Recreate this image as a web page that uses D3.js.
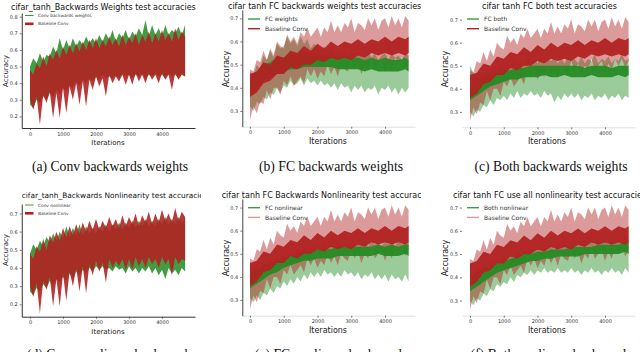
<!DOCTYPE html>
<html><head><meta charset="utf-8">
<script src="https://cdn.jsdelivr.net/npm/d3@7"></script>
<style>body{margin:0;background:#fff}svg{display:block}</style>
</head><body><svg id="c" width="640" height="352"></svg>
<script>
// ---------------- DATA ----------------
const iters = [0,100,200,300,400,500,600,700,800,900,1000,1100,1200,1300,1400,1500,1600,1700,1800,1900,2000,2100,2200,2300,2400,2500,2600,2700,2800,2900,3000,3100,3200,3300,3400,3500,3600,3700,3800,3900,4000,4100,4200,4300,4400,4500,4600,4700];
const coreIters = [0,200,400,600,800,1000,1200,1400,1600,1800,2000,2200,2400,2600,2800,3000,3200,3400,3600,3800,4000,4200,4400,4600,4700];
const xTicks = [0,1000,2000,3000,4000];
const yTicksA = [0.2,0.3,0.4,0.5,0.6,0.7,0.8];
const yTicksD = [0.2,0.3,0.4,0.5,0.6,0.7];
const yTicksFC = [0.3,0.4,0.5,0.6,0.7];
const titles = ["cifar_tanh_Backwards Weights test accuracies","cifar tanh FC backwards weights test accuracies","cifar tanh FC both test accuracies","cifar_tanh_Backwards Nonlinearity test accuracies","cifar tanh FC Backwards Nonlinearity test accuracies","cifar tanh FC use all nonlinearity test accuracies"];
const legendLabels = ["Conv backwards weights","FC weights","FC both","Conv nonlinear","FC nonlinear","Both nonlinear"];
const baselineLabel = "Baseline Conv";
const captions = ["(a) Conv backwards weights","(b) FC backwards weights","(c) Both backwards weights","(d) Conv nonlinear backwards","(e) FC nonlinear backwards","(f) Both nonlinear backwards"];

// Baseline Conv (panels a, d): upper / lower envelope of the noisy run
const baseConvUpper = [0.48,0.45,0.52,0.49,0.56,0.50,0.58,0.54,0.60,0.55,0.62,0.57,0.63,0.58,0.64,0.59,0.65,0.60,0.66,0.61,0.67,0.61,0.66,0.62,0.68,0.63,0.67,0.62,0.69,0.63,0.68,0.64,0.70,0.63,0.69,0.65,0.71,0.64,0.70,0.65,0.72,0.66,0.70,0.65,0.73,0.66,0.71,0.68];
const baseConvLower = [0.30,0.24,0.32,0.15,0.33,0.28,0.35,0.19,0.34,0.19,0.37,0.22,0.38,0.30,0.40,0.27,0.41,0.26,0.42,0.36,0.44,0.38,0.43,0.32,0.45,0.40,0.44,0.41,0.45,0.39,0.45,0.39,0.46,0.41,0.45,0.40,0.46,0.42,0.45,0.40,0.46,0.42,0.45,0.36,0.46,0.42,0.45,0.44];
// Conv backwards weights (a)
const convWeightsUpper = [0.50,0.55,0.52,0.58,0.53,0.57,0.56,0.62,0.58,0.67,0.60,0.66,0.61,0.67,0.62,0.66,0.63,0.68,0.64,0.67,0.64,0.69,0.65,0.70,0.66,0.72,0.65,0.70,0.67,0.72,0.66,0.71,0.68,0.73,0.69,0.78,0.68,0.75,0.69,0.73,0.68,0.75,0.69,0.72,0.70,0.74,0.69,0.75];
const convWeightsLower = [0.27,0.25,0.30,0.28,0.32,0.30,0.34,0.31,0.36,0.33,0.37,0.35,0.39,0.37,0.41,0.38,0.42,0.40,0.43,0.41,0.44,0.42,0.45,0.43,0.44,0.43,0.45,0.43,0.46,0.44,0.45,0.43,0.45,0.44,0.46,0.43,0.45,0.44,0.46,0.44,0.45,0.43,0.46,0.44,0.45,0.43,0.46,0.44];
// Conv nonlinear (d)
const convNonlinUpper = [0.48,0.53,0.50,0.55,0.52,0.57,0.54,0.59,0.55,0.60,0.56,0.63,0.57,0.62,0.58,0.64,0.58,0.63,0.59,0.62,0.59,0.63,0.60,0.64,0.60,0.64,0.61,0.65,0.61,0.65,0.62,0.66,0.62,0.66,0.63,0.67,0.63,0.66,0.63,0.67,0.64,0.68,0.64,0.67,0.64,0.68,0.65,0.67];
const convNonlinLower = [0.27,0.25,0.29,0.27,0.31,0.29,0.33,0.30,0.34,0.32,0.35,0.33,0.37,0.34,0.38,0.36,0.39,0.37,0.40,0.38,0.41,0.39,0.41,0.39,0.40,0.38,0.41,0.39,0.40,0.37,0.41,0.38,0.40,0.37,0.40,0.38,0.41,0.37,0.40,0.36,0.39,0.34,0.40,0.37,0.39,0.36,0.40,0.38];

// Baseline Conv (panels b, c, e, f): wide spread and core
const baseFcUpper = [0.48,0.47,0.52,0.51,0.56,0.52,0.57,0.54,0.60,0.58,0.57,0.63,0.60,0.62,0.59,0.64,0.62,0.66,0.62,0.64,0.66,0.62,0.66,0.64,0.69,0.64,0.67,0.64,0.68,0.66,0.70,0.64,0.68,0.67,0.65,0.70,0.67,0.70,0.65,0.69,0.70,0.66,0.71,0.67,0.70,0.66,0.71,0.69];
const baseFcLower = [0.26,0.32,0.29,0.34,0.33,0.39,0.35,0.40,0.40,0.37,0.43,0.41,0.45,0.41,0.43,0.45,0.42,0.48,0.45,0.48,0.44,0.47,0.45,0.50,0.46,0.49,0.45,0.50,0.48,0.47,0.52,0.48,0.51,0.46,0.50,0.48,0.53,0.48,0.50,0.52,0.47,0.51,0.48,0.53,0.50,0.53,0.49,0.52];
const baseFcCoreUpper = [0.46,0.47,0.51,0.50,0.54,0.53,0.56,0.55,0.58,0.56,0.59,0.57,0.60,0.58,0.60,0.59,0.61,0.59,0.61,0.60,0.62,0.60,0.62,0.61,0.62];
const baseFcCoreLower = [0.36,0.38,0.42,0.43,0.46,0.46,0.49,0.48,0.50,0.50,0.52,0.51,0.53,0.52,0.53,0.52,0.54,0.53,0.55,0.54,0.55,0.54,0.55,0.54,0.55];

// FC weights (b)
const fcWeightsUpper = [0.47,0.45,0.50,0.48,0.54,0.52,0.56,0.53,0.59,0.57,0.58,0.62,0.59,0.61,0.58,0.62,0.59,0.61,0.57,0.59,0.58,0.55,0.58,0.56,0.58,0.54,0.56,0.54,0.56,0.54,0.56,0.53,0.55,0.54,0.53,0.56,0.53,0.55,0.52,0.54,0.55,0.52,0.55,0.53,0.54,0.52,0.55,0.54];
const fcWeightsLower = [0.32,0.30,0.34,0.33,0.36,0.35,0.38,0.37,0.40,0.38,0.41,0.40,0.43,0.41,0.42,0.44,0.41,0.44,0.42,0.43,0.41,0.43,0.41,0.42,0.40,0.42,0.39,0.42,0.40,0.41,0.38,0.41,0.39,0.41,0.38,0.40,0.39,0.41,0.37,0.40,0.39,0.41,0.38,0.40,0.37,0.40,0.38,0.40];
const fcWeightsCoreUpper = [0.44,0.47,0.50,0.51,0.53,0.53,0.54,0.54,0.55,0.54,0.54,0.54,0.54,0.53,0.53,0.53,0.53,0.52,0.53,0.52,0.53,0.52,0.52,0.53,0.52];
const fcWeightsCoreLower = [0.37,0.40,0.43,0.45,0.46,0.47,0.48,0.48,0.49,0.49,0.49,0.49,0.49,0.48,0.48,0.48,0.48,0.47,0.48,0.47,0.47,0.47,0.47,0.48,0.47];
// FC both (c)
const fcBothUpper = [0.50,0.47,0.45,0.48,0.46,0.49,0.47,0.50,0.48,0.51,0.49,0.52,0.50,0.53,0.50,0.52,0.50,0.54,0.51,0.53,0.51,0.54,0.51,0.53,0.52,0.54,0.51,0.53,0.51,0.54,0.52,0.53,0.51,0.54,0.51,0.53,0.52,0.55,0.51,0.53,0.52,0.54,0.51,0.53,0.52,0.55,0.52,0.53];
const fcBothLower = [0.30,0.28,0.31,0.30,0.33,0.32,0.35,0.33,0.36,0.35,0.37,0.35,0.38,0.36,0.39,0.36,0.38,0.37,0.39,0.37,0.38,0.36,0.39,0.37,0.38,0.34,0.37,0.35,0.38,0.36,0.38,0.36,0.38,0.35,0.37,0.36,0.38,0.35,0.37,0.36,0.38,0.35,0.37,0.36,0.38,0.35,0.37,0.36];
const fcBothCoreUpper = [0.42,0.44,0.45,0.46,0.47,0.48,0.48,0.49,0.49,0.50,0.50,0.50,0.50,0.50,0.50,0.50,0.50,0.49,0.50,0.50,0.50,0.49,0.50,0.50,0.50];
const fcBothCoreLower = [0.35,0.37,0.39,0.41,0.42,0.43,0.44,0.44,0.45,0.45,0.45,0.46,0.45,0.45,0.46,0.45,0.45,0.45,0.46,0.45,0.45,0.45,0.46,0.45,0.46];
// FC nonlinear (e)
const fcNonlinUpper = [0.46,0.43,0.46,0.44,0.47,0.45,0.48,0.46,0.49,0.47,0.50,0.48,0.51,0.49,0.52,0.50,0.53,0.51,0.54,0.52,0.54,0.52,0.55,0.53,0.55,0.53,0.56,0.53,0.55,0.54,0.56,0.53,0.55,0.54,0.56,0.53,0.56,0.54,0.55,0.53,0.56,0.54,0.56,0.53,0.56,0.54,0.57,0.55];
const fcNonlinLower = [0.31,0.29,0.32,0.30,0.33,0.32,0.35,0.33,0.36,0.35,0.38,0.36,0.39,0.37,0.40,0.38,0.41,0.39,0.42,0.40,0.42,0.40,0.43,0.41,0.42,0.40,0.42,0.40,0.43,0.41,0.42,0.40,0.42,0.39,0.41,0.40,0.42,0.39,0.41,0.39,0.41,0.38,0.41,0.39,0.40,0.38,0.41,0.38];
const fcNonlinCoreUpper = [0.41,0.43,0.45,0.46,0.47,0.48,0.49,0.50,0.51,0.51,0.52,0.52,0.52,0.53,0.53,0.53,0.53,0.53,0.53,0.54,0.53,0.54,0.53,0.54,0.54];
const fcNonlinCoreLower = [0.35,0.37,0.39,0.41,0.42,0.44,0.45,0.46,0.47,0.47,0.48,0.48,0.48,0.49,0.49,0.49,0.49,0.49,0.49,0.50,0.49,0.49,0.49,0.50,0.49];
// Both nonlinear (f)
const bothNonlinUpper = [0.45,0.42,0.45,0.43,0.46,0.44,0.47,0.45,0.48,0.46,0.49,0.47,0.50,0.48,0.51,0.49,0.52,0.50,0.53,0.51,0.53,0.51,0.54,0.52,0.54,0.52,0.55,0.53,0.55,0.53,0.56,0.53,0.55,0.54,0.56,0.54,0.56,0.54,0.57,0.55,0.56,0.54,0.57,0.55,0.57,0.55,0.58,0.56];
const bothNonlinLower = [0.30,0.28,0.31,0.30,0.33,0.32,0.35,0.34,0.37,0.36,0.38,0.37,0.40,0.38,0.41,0.40,0.42,0.41,0.43,0.41,0.43,0.42,0.44,0.42,0.43,0.42,0.44,0.42,0.43,0.42,0.44,0.42,0.43,0.41,0.43,0.42,0.44,0.42,0.43,0.41,0.43,0.42,0.44,0.42,0.43,0.41,0.44,0.42];
const bothNonlinCoreUpper = [0.40,0.42,0.44,0.45,0.46,0.47,0.48,0.49,0.50,0.50,0.51,0.51,0.52,0.52,0.52,0.53,0.53,0.53,0.53,0.54,0.54,0.54,0.54,0.55,0.55];
const bothNonlinCoreLower = [0.34,0.36,0.38,0.40,0.42,0.43,0.44,0.45,0.46,0.47,0.47,0.48,0.48,0.49,0.49,0.49,0.49,0.50,0.50,0.50,0.50,0.50,0.50,0.51,0.50];

// ---------------- DRAWING ----------------
const RED = "#b22222", GREEN = "#228b22";
const FONT = "DejaVu Sans";
const svg = d3.select("#c");
const defs = svg.append("defs");
[[0,201],[215,206],[440,200]].forEach((c,i)=>{
  defs.append("clipPath").attr("id","clip"+i).append("rect").attr("x",c[0]).attr("y",0).attr("width",c[1]).attr("height",352);
});

const panels = [
 {type:"conv", xr:[21.75,195], xd:[-250,5000], yr:[128,13], yd:[0.130,0.822], yTicks:yTicksA,
  green:[convWeightsUpper,convWeightsLower], red:[baseConvUpper,baseConvLower],
  title:titles[0], tx:11, ty:9.5, tfs:8, clip:0, label:legendLabels[0], lx:25, ly:15.5,
  accX:6, accY:71, accFs:7, itX:108, itY:144.5, itFs:7, leftSpine:"#333", botSpine:"#333"},
 {type:"fc", xr:[242.3,415], xd:[-228,4889], yr:[126.7,10], yd:[0.232,0.736], yTicks:yTicksFC,
  green:[fcWeightsUpper,fcWeightsLower,fcWeightsCoreUpper,fcWeightsCoreLower],
  title:titles[1], tx:228, ty:9, tfs:8, clip:1, label:legendLabels[1], lx:248, ly:19, legRed:RED,
  accX:226, accY:69, accFs:8, itX:328, itY:144, itFs:8, leftSpine:"#444", botSpine:"#d8d8d8"},
 {type:"fc", xr:[462,635], xd:[-237,4889], yr:[127.3,10.6], yd:[0.233,0.739], yTicks:yTicksFC,
  green:[fcBothUpper,fcBothLower,fcBothCoreUpper,fcBothCoreLower],
  title:titles[2], tx:482, ty:9, tfs:8, clip:2, label:legendLabels[2], lx:467, ly:19, legRed:RED,
  accX:445, accY:69, accFs:8, itX:547, itY:144, itFs:8, leftSpine:"none", botSpine:"#d8d8d8"},
 {type:"conv", xr:[21.75,195], xd:[-250,5000], yr:[316.7,204], yd:[0.132,0.752], yTicks:yTicksD,
  green:[convNonlinUpper,convNonlinLower], red:[baseConvUpper,baseConvLower],
  title:titles[3], tx:21.7, ty:198, tfs:7.4, clip:0, label:legendLabels[3], lx:25, ly:205,
  accX:6, accY:250, accFs:7, itX:108, itY:334, itFs:7, leftSpine:"#333", botSpine:"#333"},
 {type:"fc", xr:[242.3,415], xd:[-228,4889], yr:[315.7,199], yd:[0.232,0.737], yTicks:yTicksFC,
  green:[fcNonlinUpper,fcNonlinLower,fcNonlinCoreUpper,fcNonlinCoreLower],
  title:titles[4], tx:221.7, ty:198, tfs:8, clip:1, label:legendLabels[4], lx:248, ly:207.7, legRed:"#dc9b9b",
  accX:226, accY:258, accFs:8, itX:328, itY:333, itFs:8, leftSpine:"#444", botSpine:"#d8d8d8"},
 {type:"fc", xr:[462,635], xd:[-237,4889], yr:[315.7,199], yd:[0.235,0.737], yTicks:yTicksFC,
  green:[bothNonlinUpper,bothNonlinLower,bothNonlinCoreUpper,bothNonlinCoreLower],
  title:titles[5], tx:453, ty:198, tfs:8, clip:2, label:legendLabels[5], lx:467, ly:207.7, legRed:"#dc9b9b",
  accX:445, accY:258, accFs:8, itX:547, itY:333, itFs:8, leftSpine:"none", botSpine:"#d8d8d8"}
];

panels.forEach(p => {
  const g = svg.append("g").attr("clip-path", `url(#clip${p.clip})`);
  const x = d3.scaleLinear().domain(p.xd).range(p.xr);
  const y = d3.scaleLinear().domain(p.yd).range(p.yr);
  const band = (xs, up, lo) => d3.area()
      .x((d,i)=>x(xs[i])).y0((d,i)=>y(lo[i])).y1((d,i)=>y(up[i]))(up);

  if (p.type === "conv") {
    g.append("path").attr("d", band(iters, p.green[0], p.green[1])).attr("fill", GREEN).attr("fill-opacity", 0.85);
    g.append("path").attr("d", band(iters, p.red[0], p.red[1])).attr("fill", RED).attr("fill-opacity", 0.9);
  } else {
    g.append("path").attr("d", band(iters, p.green[0], p.green[1])).attr("fill", GREEN).attr("fill-opacity", 0.45);
    g.append("path").attr("d", band(iters, baseFcUpper, baseFcLower)).attr("fill", RED).attr("fill-opacity", 0.45);
    g.append("path").attr("d", band(coreIters, p.green[2], p.green[3])).attr("fill", GREEN).attr("fill-opacity", 0.92);
    g.append("path").attr("d", band(coreIters, baseFcCoreUpper, baseFcCoreLower)).attr("fill", RED).attr("fill-opacity", 0.95);
  }

  // axes
  const xg = g.append("g").attr("transform", `translate(0,${p.yr[0]})`)
    .call(d3.axisBottom(x).tickValues(xTicks).tickSize(2).tickSizeOuter(0).tickPadding(2).tickFormat(d3.format("d")));
  xg.attr("font-size", 5).attr("font-family", FONT);
  xg.select(".domain").attr("stroke", p.botSpine).attr("stroke-width", p.type==="conv"?1:0.8);
  xg.selectAll(".tick line").attr("stroke", "#444").attr("stroke-width", 0.7);
  xg.selectAll(".tick text").attr("fill", "#333");

  const yg = g.append("g").attr("transform", `translate(${p.xr[0]},0)`)
    .call(d3.axisLeft(y).tickValues(p.yTicks).tickSize(2).tickSizeOuter(0).tickPadding(2).tickFormat(d3.format(".1f")));
  yg.attr("font-size", 5).attr("font-family", FONT);
  yg.select(".domain").attr("stroke", p.leftSpine).attr("stroke-width", 1);
  yg.selectAll(".tick line").attr("stroke", "#444").attr("stroke-width", 0.7);
  yg.selectAll(".tick text").attr("fill", "#333");

  // title
  g.append("text").attr("x", p.tx).attr("y", p.ty).attr("font-family", FONT).attr("font-size", p.tfs)
    .attr("fill", "#111").text(p.title);
  // axis labels
  g.append("text").attr("x", p.itX).attr("y", p.itY).attr("text-anchor", "middle")
    .attr("font-family", FONT).attr("font-size", p.itFs).attr("fill", "#222").text("Iterations");
  g.append("text").attr("transform", `translate(${p.accX},${p.accY}) rotate(-90)`).attr("text-anchor", "middle")
    .attr("dy", "0.35em").attr("font-family", FONT).attr("font-size", p.accFs).attr("fill", "#222").text("Accuracy");

  // legend
  if (p.type === "conv") {
    g.append("line").attr("x1", p.lx).attr("x2", p.lx+8.5).attr("y1", p.ly).attr("y2", p.ly).attr("stroke", GREEN).attr("stroke-width", 0.9);
    g.append("line").attr("x1", p.lx).attr("x2", p.lx+8.5).attr("y1", p.ly+8.3).attr("y2", p.ly+8.3).attr("stroke", RED).attr("stroke-width", 2.6);
    g.append("text").attr("x", p.lx+13).attr("y", p.ly).attr("dy", "0.35em").attr("font-family", FONT).attr("font-size", 4.3).attr("fill", "#333").text(p.label);
    g.append("text").attr("x", p.lx+13).attr("y", p.ly+8.3).attr("dy", "0.35em").attr("font-family", FONT).attr("font-size", 4.3).attr("fill", "#333").text(baselineLabel);
  } else {
    g.append("line").attr("x1", p.lx).attr("x2", p.lx+12).attr("y1", p.ly).attr("y2", p.ly).attr("stroke", "#3a9d3a").attr("stroke-width", 1.4);
    g.append("line").attr("x1", p.lx).attr("x2", p.lx+12).attr("y1", p.ly+9.7).attr("y2", p.ly+9.7).attr("stroke", p.legRed).attr("stroke-width", 1.4);
    g.append("text").attr("x", p.lx+17).attr("y", p.ly).attr("dy", "0.35em").attr("font-family", FONT).attr("font-size", 6).attr("fill", "#333").text(p.label);
    g.append("text").attr("x", p.lx+17).attr("y", p.ly+9.7).attr("dy", "0.35em").attr("font-family", FONT).attr("font-size", 6).attr("fill", "#333").text(baselineLabel);
  }
});

// captions (bottom row is cropped by the figure edge, as in the source)
const capPos = [[110,171],[331,171],[551,171],[110,359],[331,359],[551,359]];
captions.forEach((c,i)=>{
  svg.append("text").attr("x", capPos[i][0]).attr("y", capPos[i][1]).attr("text-anchor","middle")
    .attr("font-family","Liberation Serif").attr("font-size",13.7).attr("fill","#111").text(c);
});
</script></body></html>
